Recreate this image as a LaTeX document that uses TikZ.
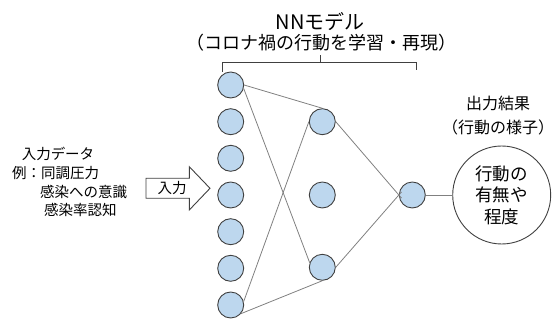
\documentclass[tikz,border=0pt]{standalone}
\usepackage{fontspec}
\setmainfont{Noto Sans CJK JP}
\usetikzlibrary{calc}
\definecolor{nodefill}{HTML}{BDD7EE}
\definecolor{nodeline}{HTML}{404040}
\definecolor{linkgray}{HTML}{808080}
\begin{document}
\begin{tikzpicture}[x=1pt,y=-1pt,
  neuron/.style={circle,draw=nodeline,fill=nodefill,line width=0.9pt,minimum size=26pt,inner sep=0pt},
  link/.style={draw=linkgray,line width=0.8pt},
  lbl/.style={inner sep=0pt,font=\fontsize{14.5}{16}\selectfont}
]
\useasboundingbox (0,0) rectangle (560,320);
% input layer
\foreach \i/\y in {1/85,2/121.7,3/158.3,4/195,5/231.7,6/268.3,7/305}
  \node[neuron] (i\i) at (230.7,\y) {};
% hidden layer
\node[neuron] (h1) at (322.3,121.7) {};
\node[neuron] (h2) at (322.3,195) {};
\node[neuron] (h3) at (322.3,267.3) {};
% output
\node[neuron] (o) at (412.3,195) {};
\node[circle,draw=nodeline,line width=0.9pt,minimum size=98pt,inner sep=0pt,align=center,
      font=\fontsize{17.5}{21.5}\selectfont] (big) at (501.7,195) {行動の\\有無や\\程度};
% connectors
\draw[link] (i1.east) -- (h1.north);
\draw[link] (i1.-15) -- (h3.160);
\draw[link] (i7.15) -- (h1.west);
\draw[link] (i7.-40) -- (h3.south);
\draw[link,shorten >=-4pt] (h1.east) -- (o.west);
\draw[link,shorten >=-4pt] (h3.east) -- (o.west);
\draw[link] (o.east) -- (big.west);
% brace
\draw[draw=nodeline,line width=0.9pt] (222.7,71.7) -- (222.7,62) -- (416,62) -- (416,70);
\draw[draw=nodeline,line width=0.9pt] (320.7,62) -- (320.7,55);
% titles
\node[inner sep=0pt,font=\fontsize{20}{22}\selectfont] (title) at (320,22) {NNモデル};
\node[inner sep=0pt,font=\fontsize{18}{20}\selectfont] (subtitle) at (321,43) {（コロナ禍の行動を学習・再現）};
\node[inner sep=0pt,font=\fontsize{16}{18}\selectfont] (outtitle) at (498,103) {出力結果};
\node[inner sep=0pt,font=\fontsize{16}{18}\selectfont] (outsub) at (498,127) {（行動の様子）};
% input data text
\node[lbl] (in1) at (58,154) {入力データ};
\node[lbl,anchor=west] (in2) at (12,172.7) {例：同調圧力};
\node[lbl,anchor=west] (in3) at (40,191.7) {感染への意識};
\node[lbl,anchor=west] (in4) at (44,210) {感染率認知};
% block arrow
\draw[draw=nodeline,line width=0.9pt,fill=white] (146,178.3) -- (189.3,178.3) -- (189.3,166.7) -- (210,188.3)
  -- (189.3,210) -- (189.3,198.3) -- (146,198.3) -- cycle;
\node[lbl] (arrowlbl) at (172,188.3) {入力};
\end{tikzpicture}
\end{document}
